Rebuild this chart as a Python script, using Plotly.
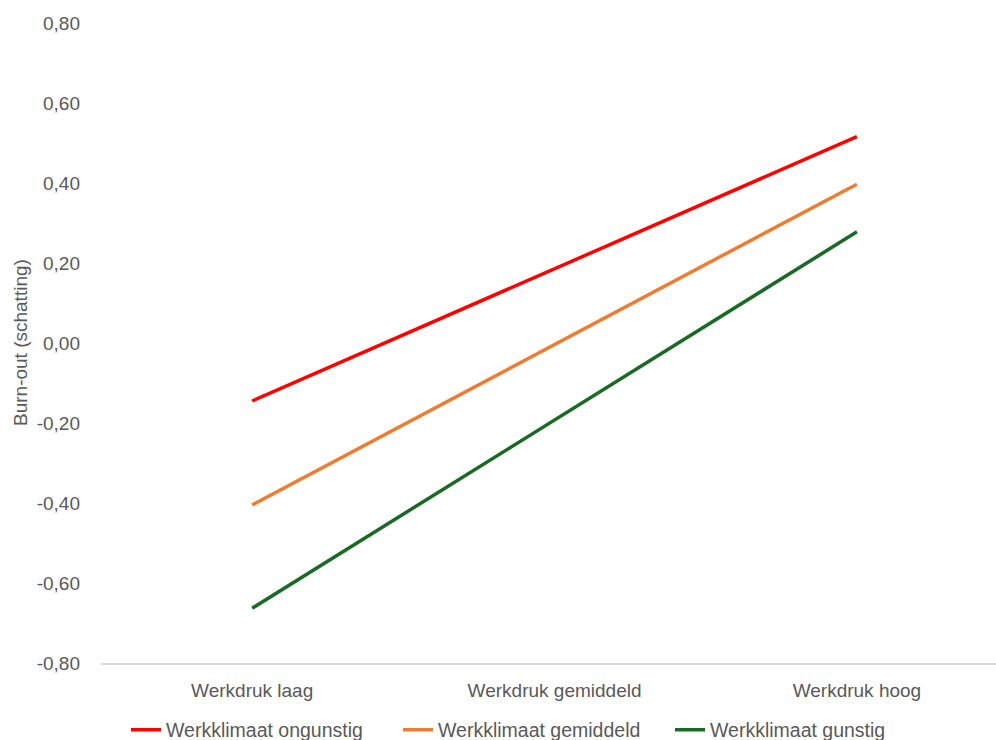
import plotly.graph_objects as go

categories = ["Werkdruk laag", "Werkdruk gemiddeld", "Werkdruk hoog"]
series_names = ["Werkklimaat ongunstig", "Werkklimaat gemiddeld", "Werkklimaat gunstig"]
ongunstig = [-0.145, 0.186, 0.516]
gemiddeld = [-0.405, -0.005, 0.397]
gunstig = [-0.663, -0.192, 0.278]
y_ticks = [-0.8, -0.6, -0.4, -0.2, 0.0, 0.2, 0.4, 0.6, 0.8]
y_ticktext = [("%.2f" % v).replace(".", ",") for v in y_ticks]

colors = ["#FF0000", "#ED7D31", "#196B24"]
FONT = "Liberation Sans, Arial, sans-serif"
GREY = "#595959"

W, H = 996, 740
L, R, T, B = 101, 0, 23, 77

fig = go.Figure()
for name, vals, col in zip(series_names, [ongunstig, gemiddeld, gunstig], colors):
    fig.add_trace(go.Scatter(x=categories, y=vals, mode="lines", name=name,
                             line=dict(color=col, width=3.5)))

fig.update_layout(
    width=W, height=H,
    margin=dict(l=L, r=R, t=T, b=B, pad=0, autoexpand=False),
    paper_bgcolor="white", plot_bgcolor="white",
    font=dict(family=FONT, size=19, color=GREY),
    showlegend=True,
    legend=dict(orientation="h", xref="container", yref="container",
                x=(132 - 6) / W, xanchor="left",
                y=(H - 730) / H, yanchor="middle",
                font=dict(family=FONT, size=19.5, color=GREY),
                entrywidth=227, entrywidthmode="pixels",
                itemwidth=30, traceorder="normal"),
)
fig.update_xaxes(type="category", range=[-0.5, 2.46], showgrid=False,
                 showline=True, linecolor="#D9D9D9", linewidth=1.5,
                 ticks="", ticklabelstandoff=9, zeroline=False,
                 tickfont=dict(family=FONT, size=19, color=GREY))
fig.update_yaxes(range=[-0.8, 0.8], showgrid=False, showline=False, zeroline=False,
                 tickvals=y_ticks, ticktext=y_ticktext, ticks="",
                 ticklabelstandoff=20,
                 tickfont=dict(family=FONT, size=19, color=GREY))
fig.add_annotation(text="Burn-out (schatting)", textangle=-90, xref="paper", yref="paper",
                   x=(20 - L) / (W - L - R), y=(H - B - 343) / (H - T - B),
                   xanchor="center", yanchor="middle", showarrow=False,
                   font=dict(family=FONT, size=19, color=GREY))

fig.write_html("out.html")
